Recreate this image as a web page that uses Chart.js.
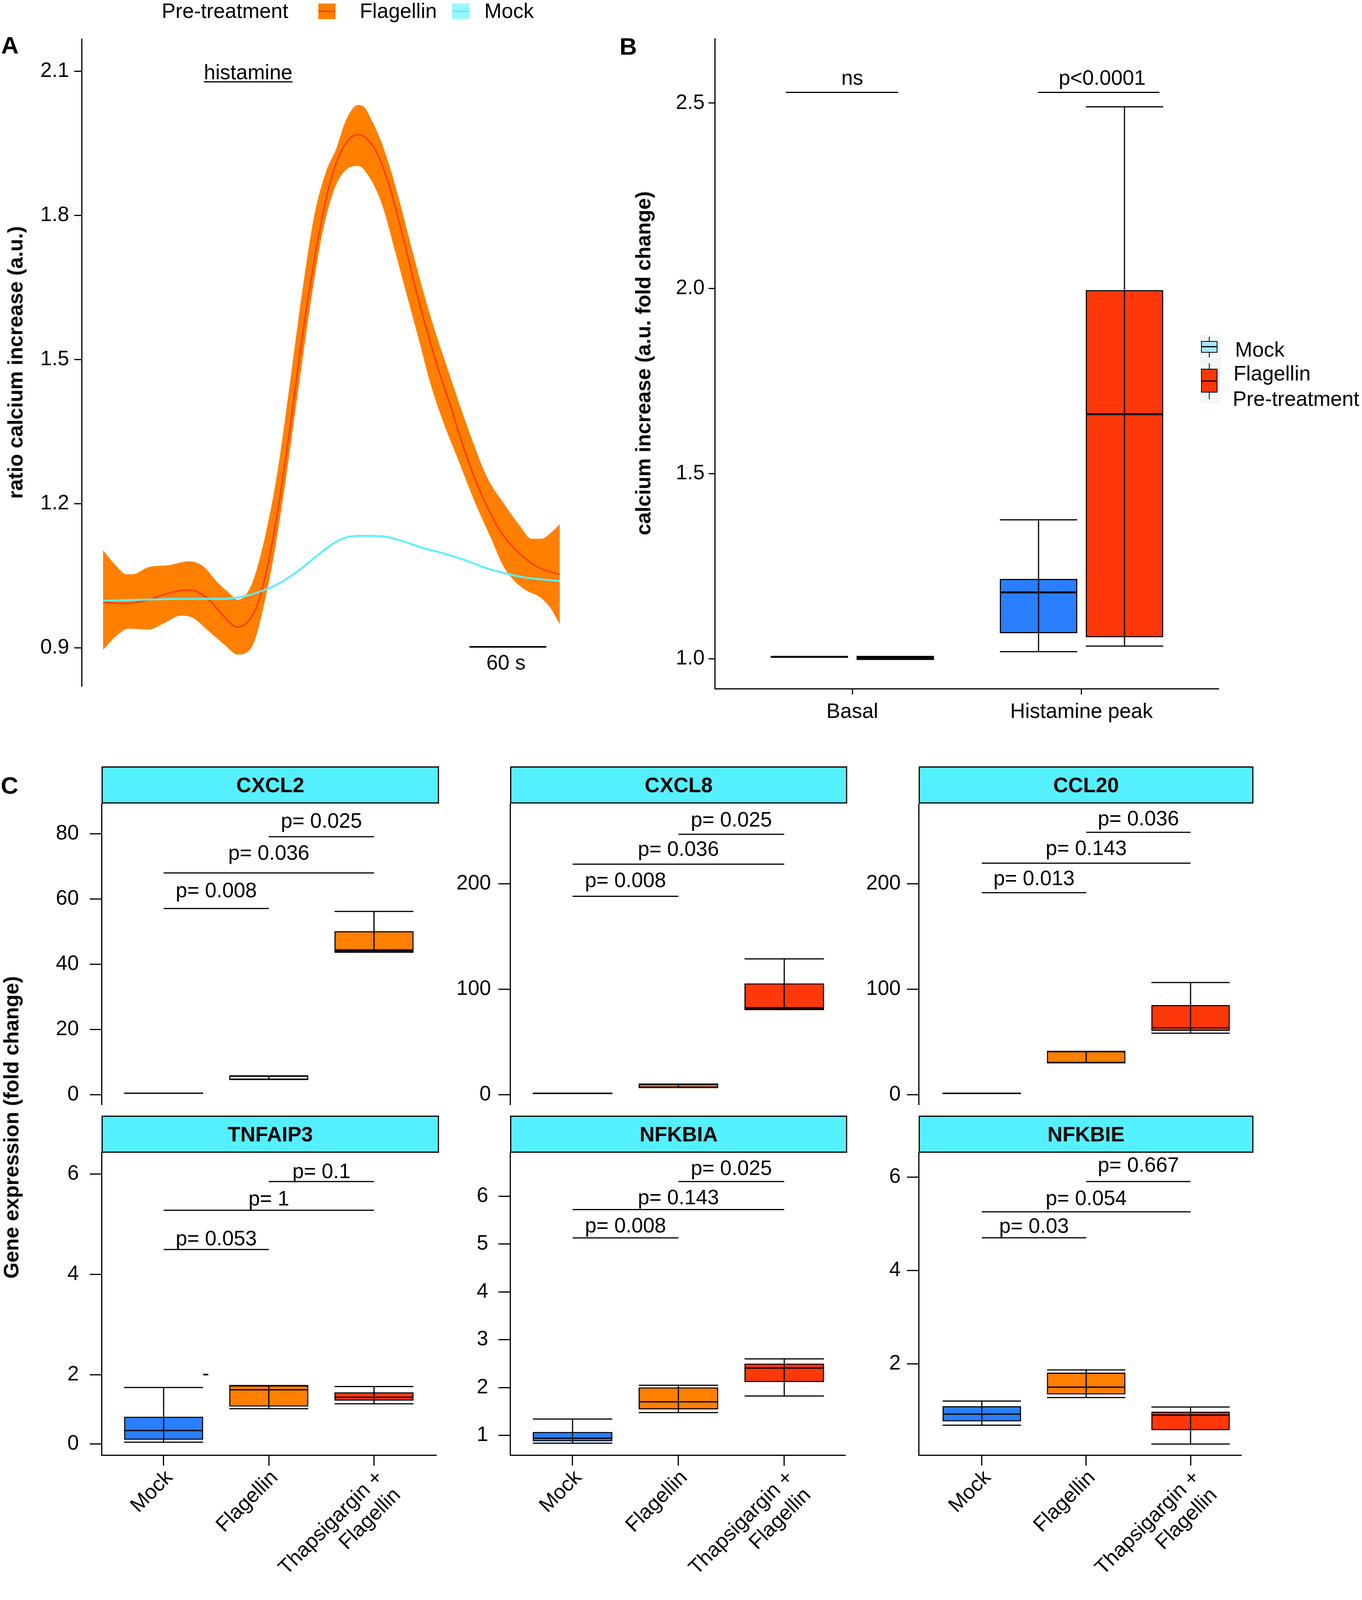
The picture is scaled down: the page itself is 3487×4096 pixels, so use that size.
<!DOCTYPE html>
<html>
<head>
<meta charset="utf-8">
<script src="https://cdn.jsdelivr.net/npm/chart.js@4.4.1/dist/chart.umd.min.js"></script>
<style>
html, body { margin: 0; padding: 0; background: #fff; }
body { width: 3487px; height: 4096px; position: relative; overflow: hidden;
       font-family: 'Liberation Sans', Arial, sans-serif; color: #000; }
canvas { position: absolute; }
.t { position: absolute; white-space: nowrap; }
.b { font-weight: bold; }
.rot { transform: translate(-50%, -50%) rotate(-90deg); }
.strip { position: absolute; box-sizing: border-box; background: #55F0FF; border: 3px solid #000;
         display: flex; align-items: center; justify-content: center;
         font-weight: bold; font-size: 53px; }
.box { position: absolute; box-sizing: border-box; }
</style>
</head>
<body>
<script>
// ---------- panel A : calcium ratio traces (time in s) ----------
const flagT = [0, 16.6, 35.5, 51.2, 63.8, 73.2, 82.6, 93.6, 104.6, 112.5, 120.3, 128.2, 136.0, 145.4, 154.9, 164.3, 173.7, 183.1, 192.6, 198.8, 205.1, 214.6, 224.0, 233.4, 242.8, 252.3, 261.7, 271.1, 280.5, 290.0, 299.4, 308.8, 318.2, 327.6, 340.2, 355.9];
const flagV = [0.995, 0.992, 1.0, 1.014, 1.020, 1.017, 1.0, 0.967, 0.943, 0.953, 0.99, 1.07, 1.183, 1.353, 1.542, 1.702, 1.834, 1.919, 1.961, 1.968, 1.961, 1.924, 1.853, 1.759, 1.655, 1.561, 1.476, 1.40, 1.32, 1.25, 1.193, 1.146, 1.113, 1.089, 1.066, 1.053];
const flagUpT = [0, 10.4, 18.2, 22.9, 35.5, 51.2, 66.9, 77.9, 88.9, 98.3, 104.6, 110.9, 117.2, 126.6, 136.0, 145.4, 154.9, 164.3, 173.7, 181.6, 189.4, 198.8, 203.6, 208.3, 217.7, 228.7, 239.7, 249.1, 258.5, 268.0, 277.4, 286.8, 299.4, 311.9, 324.5, 333.9, 341.8, 349.6, 355.9];
const flagUpV = [1.103, 1.07, 1.053, 1.053, 1.068, 1.072, 1.08, 1.07, 1.037, 1.014, 1.0, 1.009, 1.042, 1.136, 1.268, 1.447, 1.636, 1.796, 1.891, 1.938, 1.999, 2.03, 2.025, 2.004, 1.947, 1.853, 1.74, 1.646, 1.561, 1.485, 1.41, 1.339, 1.254, 1.202, 1.155, 1.127, 1.127, 1.141, 1.157];
const flagLoT = [0, 10.4, 19.8, 35.5, 48.1, 60.6, 70.1, 82.6, 95.2, 104.6, 112.5, 118.7, 125.0, 132.9, 142.3, 151.7, 161.2, 170.6, 180.0, 189.4, 198.8, 208.3, 217.7, 227.1, 236.5, 246.0, 255.4, 264.8, 277.4, 289.9, 302.5, 311.9, 321.4, 330.8, 340.2, 348.1, 355.9];
const flagLoV = [0.896, 0.925, 0.94, 0.938, 0.952, 0.967, 0.962, 0.934, 0.905, 0.886, 0.891, 0.919, 0.985, 1.089, 1.249, 1.429, 1.608, 1.759, 1.853, 1.895, 1.903, 1.876, 1.82, 1.73, 1.636, 1.542, 1.447, 1.372, 1.287, 1.202, 1.127, 1.07, 1.037, 1.018, 1.006, 0.985, 0.949];
const mockT = [0, 29.2, 60.6, 92.0, 107.7, 123.5, 139.2, 154.9, 170.6, 186.3, 202.0, 217.7, 233.4, 249.1, 264.8, 280.5, 296.2, 311.9, 327.6, 343.4, 355.9];
const mockV = [0.998, 1.0, 1.002, 1.002, 1.006, 1.018, 1.037, 1.066, 1.1, 1.127, 1.133, 1.132, 1.122, 1.108, 1.097, 1.084, 1.068, 1.056, 1.047, 1.042, 1.039];
const aTicks = [0.9, 1.2, 1.5, 1.8, 2.1];

// ---------- panel B : box stats [min, q1, median, q3, max] ----------
const bCats = ['Basal', 'Histamine peak'];
const bMock = [[1.005, 1.005, 1.005, 1.005, 1.005], [1.019, 1.069, 1.179, 1.215, 1.375]];
const bFlag = [[0.998, 0.999, 1.0, 1.004, 1.006], [1.034, 1.058, 1.66, 1.995, 2.49]];
const bTicks = [1.0, 1.5, 2.0, 2.5];
const bSig = ['ns', 'p<0.0001'];
const bSigX = [[0.71, 1.2], [1.81, 2.34]];
const bSigLabelX = [1.0, 2.09];
const bSigY = [2.529, 2.529];
const bSigLabelY = [2.55, 2.55];

// ---------- panel C : gene expression box stats ----------
const treatments = ['Mock', 'Flagellin', ['Thapsigargin +', 'Flagellin']];
const pairs = [[1, 2], [1, 3], [2, 3]];

const cxcl2Stats = [[0.5, 0.5, 0.5, 0.5, 0.5], [4.7, 4.7, 4.7, 5.8, 5.8], [43.7, 43.9, 44.4, 50.1, 56.2]];
const cxcl8Stats = [[1.4, 1.4, 1.4, 1.4, 1.4], [7.0, 7.0, 7.0, 10.2, 10.2], [80.8, 81.0, 82.6, 105.5, 128.8]];
const ccl20Stats = [[1.4, 1.4, 1.4, 1.4, 1.4], [30.4, 30.4, 41.0, 41.2, 41.2], [58.4, 60.6, 63.5, 84.9, 106.4]];
const tnfaip3Stats = [[0.658, 0.710, 0.891, 1.164, 1.747], [1.326, 1.371, 1.702, 1.786, 1.786], [1.423, 1.488, 1.553, 1.650, 1.767]];
const nfkbiaStats = [[0.837, 0.878, 0.939, 1.068, 1.340], [1.476, 1.544, 1.700, 2.000, 2.048], [1.823, 2.116, 2.408, 2.497, 2.599]];
const nfkbieStats = [[0.683, 0.767, 0.920, 1.087, 1.199], [1.275, 1.345, 1.498, 1.805, 1.868], [0.279, 0.578, 0.899, 0.969, 1.073]];

const cxcl2P = ['p= 0.008', 'p= 0.036', 'p= 0.025'];
const cxcl8P = ['p= 0.008', 'p= 0.036', 'p= 0.025'];
const ccl20P = ['p= 0.013', 'p= 0.143', 'p= 0.036'];
const tnfaip3P = ['p= 0.053', 'p= 1', 'p= 0.1'];
const nfkbiaP = ['p= 0.008', 'p= 0.143', 'p= 0.025'];
const nfkbieP = ['p= 0.03', 'p= 0.054', 'p= 0.667'];

const cxcl2LineY = [57.1, 68.0, 79.1],      cxcl2TextY = [60.6, 72.1, 81.9];
const cxcl8LineY = [188.1, 218.5, 246.9],   cxcl8TextY = [196.8, 226.5, 254.0];
const ccl20LineY = [191.5, 219.5, 248.7],   ccl20TextY = [198.6, 227.0, 255.1];
const tnfaip3LineY = [4.496, 5.28, 5.851],  tnfaip3TextY = [4.58, 5.378, 5.916];
const nfkbiaLineY = [5.129, 5.721, 6.306],  nfkbiaTextY = [5.245, 5.83, 6.442];
const nfkbieLineY = [4.697, 5.254, 5.902],  nfkbieTextY = [4.801, 5.40, 6.111];

const cxcl2Ticks = [0, 20, 40, 60, 80];
const cxcl8Ticks = [0, 100, 200];
const ccl20Ticks = [0, 100, 200];
const tnfaip3Ticks = [0.62, 2, 4, 6];
const tnfaip3TickLabels = ['0', '2', '4', '6'];
const nfkbiaTicks = [1, 2, 3, 4, 5, 6];
const nfkbieTicks = [2, 4, 6];

const cxcl2Lim = [-3.14, 89.28], cxcl8Lim = [-9.7, 276.0], ccl20Lim = [-9.7, 276.0];
const tnfaip3Lim = [0.401, 6.433], nfkbiaLim = [0.587, 6.917], nfkbieLim = [0.043, 6.528];

// ---------- styling ----------
const FONT = "'Liberation Sans', Arial, sans-serif";
const cFill = ['#2A7FFF', '#FF7F00', '#FF380A'];
const cxcl2Fill = ['#2A7FFF', '#FFFFFF', '#FF7F00'];
Chart.defaults.font.family = FONT;
Chart.defaults.font.size = 53;
Chart.defaults.color = '#000';
Chart.defaults.animation = false;
Chart.defaults.responsive = false;
Chart.defaults.plugins.legend.display = false;
Chart.defaults.plugins.tooltip.enabled = false;

function makeCanvas(left, top, w, h) {
    const c = document.createElement('canvas');
    c.width = w; c.height = h;
    c.style.left = left + 'px'; c.style.top = top + 'px';
    c.style.width = w + 'px'; c.style.height = h + 'px';
    document.body.appendChild(c);
    return c;
}

function pts(t, v) { return t.map((x, i) => ({ x: x, y: v[i] })); }

function seg(ctx, x0, y0, x1, y1) {
    ctx.beginPath(); ctx.moveTo(x0, y0); ctx.lineTo(x1, y1); ctx.stroke();
}

function yAxis(o) {
    return {
        type: 'linear', min: o.min, max: o.max, offset: false,
        afterBuildTicks: s => { s.ticks = o.ticks.map(v => ({ value: v })); },
        afterFit: s => { s.width = o.width; s.paddingTop = 0; s.paddingBottom = 0; },
        ticks: { padding: o.pad, callback: (v, i) => o.labels ? o.labels[i] : o.fmt(v) },
        grid: { offset: false, drawOnChartArea: false, drawTicks: true, tickLength: o.tick, color: '#000', lineWidth: 3 },
        border: { display: true, color: '#000', width: 3 }
    };
}

function xAxis(o) {
    return {
        type: 'linear', min: o.min, max: o.max, offset: false,
        afterBuildTicks: s => { s.ticks = o.ticks.map(v => ({ value: v })); },
        afterFit: s => { s.height = o.height; s.paddingLeft = 0; s.paddingRight = 0; },
        ticks: { padding: o.pad, labelOffset: o.shift || 0, autoSkip: false, minRotation: o.rot, maxRotation: o.rot,
                 callback: (v, i) => o.labels[i] },
        grid: { offset: false, drawOnChartArea: false, drawTicks: true, tickLength: o.tick, color: '#000', lineWidth: 3 },
        border: { display: true, color: '#000', width: 3 }
    };
}

// whiskers, caps and medians on top of the floating bars
function boxPlugin(wl, ml) {
    return {
        id: 'boxes',
        afterDatasetsDraw(chart) {
            const ctx = chart.ctx, ys = chart.scales.y;
            chart.data.datasets.forEach((ds, di) => {
                chart.getDatasetMeta(di).data.forEach((el, i) => {
                    const s = ds.stats[i];
                    const half = el.width / 2;
                    const py = s.map(v => ys.getPixelForValue(v));
                    ctx.save();
                    ctx.strokeStyle = '#000';
                    ctx.lineWidth = wl;
                    seg(ctx, el.x, py[0], el.x, py[4]);
                    seg(ctx, el.x - half, py[0], el.x + half, py[0]);
                    seg(ctx, el.x - half, py[4], el.x + half, py[4]);
                    ctx.lineWidth = ml;
                    seg(ctx, el.x - half, py[2], el.x + half, py[2]);
                    ctx.restore();
                });
            });
        }
    };
}

function bracketPlugin(items) {
    return {
        id: 'brackets',
        afterDraw(chart) {
            const { ctx, scales: { x, y } } = chart;
            ctx.save();
            ctx.strokeStyle = '#000'; ctx.fillStyle = '#000'; ctx.lineWidth = 3;
            ctx.font = '53px ' + FONT;
            ctx.textAlign = 'center'; ctx.textBaseline = 'alphabetic';
            items.forEach(b => {
                const yy = y.getPixelForValue(b.y);
                seg(ctx, x.getPixelForValue(b.x1), yy, x.getPixelForValue(b.x2), yy);
                ctx.fillText(b.text, x.getPixelForValue(b.tx), y.getPixelForValue(b.ty));
            });
            ctx.restore();
        }
    };
}

function addText(str, x, y, o) {
    o = o || {};
    const fs = o.size || 53;
    const d = document.createElement('div');
    d.className = 't' + (o.bold ? ' b' : '') + (o.rot ? ' rot' : '');
    d.textContent = str;
    d.style.fontSize = fs + 'px';
    d.style.lineHeight = fs + 'px';
    d.style.left = x + 'px';
    d.style.top = (o.rot ? y : y - 0.8465 * fs) + 'px';   // y is baseline (or centre if rotated)
    if (o.css) Object.assign(d.style, o.css);
    document.body.appendChild(d);
    return d;
}

function addBox(l, t, w, h, css) {
    const d = document.createElement('div');
    d.className = 'box';
    Object.assign(d.style, { left: l + 'px', top: t + 'px', width: w + 'px', height: h + 'px' }, css);
    document.body.appendChild(d);
}

// ---------- A ----------
const scaleBar = {
    id: 'scaleBar',
    afterDraw(chart) {
        const { ctx, scales: { x, y } } = chart;
        const x0 = x.getPixelForValue(285.5), x1 = x.getPixelForValue(285.5 + 60);
        const yy = y.getPixelForValue(0.902);
        ctx.save();
        ctx.strokeStyle = '#000'; ctx.lineWidth = 4;
        seg(ctx, x0, yy, x1, yy);
        ctx.fillStyle = '#000'; ctx.font = '53px ' + FONT;
        ctx.textAlign = 'center'; ctx.textBaseline = 'alphabetic';
        ctx.fillText('60 s', (x0 + x1) / 2 - 5, y.getPixelForValue(0.855));
        ctx.restore();
    }
};

new Chart(makeCanvas(40, 99, 1400, 1659), {
    type: 'line',
    data: {
        datasets: [
            { data: pts(mockT, mockV), borderColor: '#5CEFFF', borderWidth: 5 },
            { data: pts(flagT, flagV), borderColor: '#FF3D0D', borderWidth: 4 },
            { data: pts(flagUpT, flagUpV), borderWidth: 0, borderColor: 'rgba(0,0,0,0)', fill: '+1', backgroundColor: '#FF8000' },
            { data: pts(flagLoT, flagLoV), borderWidth: 0, borderColor: 'rgba(0,0,0,0)' }
        ]
    },
    options: {
        devicePixelRatio: 1,
        elements: { point: { radius: 0 }, line: { tension: 0.4, cubicInterpolationMode: 'monotone' } },
        scales: {
            x: { type: 'linear', display: false, min: -16.7, max: 358 },
            y: yAxis({ min: 0.819, max: 2.168, ticks: aTicks, width: 169, pad: 13, tick: 19, fmt: v => v.toFixed(1) })
        }
    },
    plugins: [scaleBar]
});

// ---------- B ----------
const bOff = 0.1875;
new Chart(makeCanvas(1700, 98, 1421, 1785), {
    type: 'bar',
    data: {
        datasets: [
            { data: bMock.map((s, i) => ({ x: i + 1 - bOff, y: [s[1], s[3]] })), stats: bMock,
              backgroundColor: '#2A7FFF' },
            { data: bFlag.map((s, i) => ({ x: i + 1 + bOff, y: [s[1], s[3]] })), stats: bFlag,
              backgroundColor: '#FF380A' }
        ]
    },
    options: {
        devicePixelRatio: 1,
        datasets: { bar: { grouped: false, borderColor: '#000', borderWidth: 3, borderSkipped: false, barThickness: 198 } },
        scales: {
            x: xAxis({ min: 0.4, max: 2.6, ticks: bCats.map((c, i) => i + 1), labels: bCats, height: 120, pad: 14, tick: 15, rot: 0 }),
            y: yAxis({ min: 0.919, max: 2.675, ticks: bTicks, width: 130, pad: 10, tick: 16, fmt: v => v.toFixed(1) })
        }
    },
    plugins: [boxPlugin(3, 5), bracketPlugin(bSig.map((s, i) => ({
        x1: bSigX[i][0], x2: bSigX[i][1], y: bSigY[i], text: s, tx: bSigLabelX[i], ty: bSigLabelY[i]
    })))]
});

// ---------- C ----------
const colLeft = [260, 1306, 2352];
const colRight = [1118, 2165, 3179];
const colStripRight = [1124, 2169, 3209];
const colXMin = [0.41, 0.41, 0.395];
const colXMax = [3.596, 3.58, 3.49];

const cPanels = [
    { gene: 'CXCL2', col: 0, row: 0, stats: cxcl2Stats, fill: cxcl2Fill, lim: cxcl2Lim, ticks: cxcl2Ticks, pad: 28, p: cxcl2P, ly: cxcl2LineY, ty: cxcl2TextY },
    { gene: 'CXCL8', col: 1, row: 0, stats: cxcl8Stats, fill: cFill, lim: cxcl8Lim, ticks: cxcl8Ticks, pad: 19, p: cxcl8P, ly: cxcl8LineY, ty: cxcl8TextY },
    { gene: 'CCL20', col: 2, row: 0, stats: ccl20Stats, fill: cFill, lim: ccl20Lim, ticks: ccl20Ticks, pad: 16, p: ccl20P, ly: ccl20LineY, ty: ccl20TextY },
    { gene: 'TNFAIP3', col: 0, row: 1, stats: tnfaip3Stats, fill: cFill, lim: tnfaip3Lim, ticks: tnfaip3Ticks, labels: tnfaip3TickLabels, pad: 28, p: tnfaip3P, ly: tnfaip3LineY, ty: tnfaip3TextY },
    { gene: 'NFKBIA', col: 1, row: 1, stats: nfkbiaStats, fill: cFill, lim: nfkbiaLim, ticks: nfkbiaTicks, pad: 26, p: nfkbiaP, ly: nfkbiaLineY, ty: nfkbiaTextY },
    { gene: 'NFKBIE', col: 2, row: 1, stats: nfkbieStats, fill: cFill, lim: nfkbieLim, ticks: nfkbieTicks, pad: 16, p: nfkbieP, ly: nfkbieLineY, ty: nfkbieTextY }
];

cPanels.forEach(p => {
    const L = colLeft[p.col], R = colRight[p.col];
    const T = p.row ? 2950 : 2057, B = p.row ? 3725 : 2829;
    const yw = 180, xh = p.row ? 360 : 0;
    const xmin = colXMin[p.col], xmax = colXMax[p.col];
    const unit = (R - L) / (xmax - xmin);
    const xs = treatments.map((t, i) => i + 1);
    new Chart(makeCanvas(L - yw, T, R - L + yw, B - T + xh), {
        type: 'bar',
        data: {
            datasets: [{
                data: p.stats.map((s, i) => ({ x: xs[i], y: [s[1], s[3]] })),
                stats: p.stats,
                backgroundColor: p.fill, borderColor: '#000', borderWidth: 2.8, borderSkipped: false,
                barThickness: unit * 0.75, grouped: false
            }]
        },
        options: {
            devicePixelRatio: 1,
            scales: {
                x: p.row
                    ? xAxis({ min: xmin, max: xmax, ticks: xs, labels: treatments, height: xh, pad: 0, shift: 15, tick: 27, rot: 45 })
                    : { type: 'linear', display: false, offset: false, min: xmin, max: xmax },
                y: yAxis({ min: p.lim[0], max: p.lim[1], ticks: p.ticks, labels: p.labels, width: yw, pad: p.pad, tick: 30, fmt: v => String(v) })
            }
        },
        plugins: [boxPlugin(3, 3.2), bracketPlugin(p.p.map((s, i) => ({
            x1: pairs[i][0], x2: pairs[i][1], y: p.ly[i], text: s,
            tx: (pairs[i][0] + pairs[i][1]) / 2, ty: p.ty[i]
        })))]
    });
    const st = document.createElement('div');
    st.className = 'strip';
    st.textContent = p.gene;
    const top = p.row ? 2856 : 1962;
    Object.assign(st.style, { left: L + 'px', top: top + 'px', width: (colStripRight[p.col] - L) + 'px', height: '95px' });
    document.body.appendChild(st);
});

// ---------- text, legends, panel letters ----------
addText('A', 3, 137, { bold: true, size: 62 });
addText('B', 1586, 140, { bold: true, size: 62 });
addText('C', 2, 2032, { bold: true, size: 62 });

addText('ratio calcium increase (a.u.)', 39, 928, { bold: true, rot: true });
addText('calcium increase (a.u. fold change)', 1646, 930, { bold: true, rot: true });
addText('Gene expression (fold change)', 28, 2886, { bold: true, rot: true });

addText('histamine', 522, 203, { css: { textDecoration: 'underline', textDecorationThickness: '3px', textUnderlineOffset: '5px' } });

// legend of panel A
addText('Pre-treatment', 414, 46);
addBox(815, 9, 44, 40, { background: '#FF8000' });
addBox(815, 27, 44, 4, { background: '#FF3D0D' });
addText('Flagellin', 921, 46);
addBox(1157, 9, 45, 40, { background: '#9AF6FF' });
addBox(1157, 27, 45, 4, { background: '#5CEFFF' });
addText('Mock', 1240, 46);

// legend of panel B
addBox(3072, 858, 53, 175, { background: '#F3F7F7' });
addBox(3095, 862, 2, 53, { background: '#000' });
addBox(3075, 873, 42, 30, { background: '#A6E8FF', border: '2.5px solid #000' });
addBox(3075, 886, 42, 2.5, { background: '#000' });
addBox(3095, 930, 2, 92, { background: '#000' });
addBox(3075, 944, 42, 61, { background: '#FF380A', border: '2.5px solid #000' });
addBox(3075, 974, 42, 2.5, { background: '#000' });
addText('Mock', 3162, 913);
addText('Flagellin', 3158, 974);
addText('Pre-treatment', 3156, 1039);

// stray dash in TNFAIP3 panel
addText('-', 518, 3533);
</script>
</body>
</html>
